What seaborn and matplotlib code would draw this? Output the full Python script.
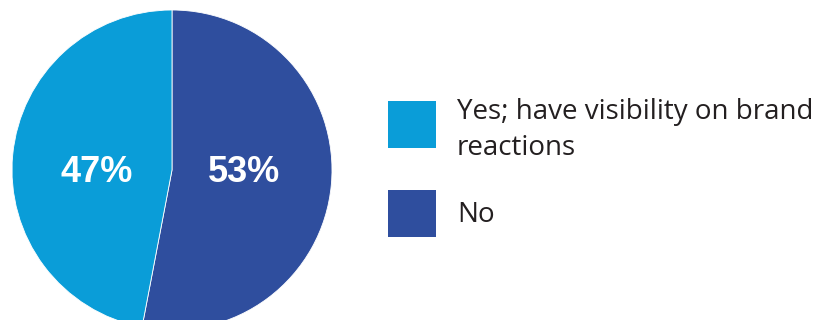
import matplotlib
matplotlib.use("Agg")
import matplotlib.pyplot as plt
from matplotlib.patches import Rectangle
import seaborn as sns

# Survey answers: visibility on brand reactions
labels = ["No", "Yes; have visibility on brand\nreactions"]
shares = [53, 47]
colors = ["#2f4e9e", "#0a9dd8"]
legend_labels = ["Yes; have visibility on brand\nreactions", "No"]
legend_colors = ["#0a9dd8", "#2f4e9e"]

sns.set_theme(style="white")
plt.rcParams["font.family"] = ["Liberation Sans", "DejaVu Sans"]

W, H = 825, 320
fig = plt.figure(figsize=(W / 100, H / 100), dpi=100)

# Pie axes: centre at (172, 170) px, radius 160 px
cx, cy, r = 172, 170, 160
ax = fig.add_axes([(cx - r) / W, (H - cy - r) / H, 2 * r / W, 2 * r / H])
wedges, _, autotexts = ax.pie(
    shares, colors=colors, startangle=90, counterclock=False,
    radius=1, autopct=lambda p: f"{p:.0f}%",
    wedgeprops=dict(linewidth=0.6, edgecolor="white"),
    textprops=dict(color="white", fontsize=26, fontweight="bold"),
)
# percentage labels sit side by side on the horizontal mid-line
for t, x in zip(autotexts, [0.45, -0.47]):
    t.set_position((x, -0.015))
    t.set_va("center")
ax.set_xlim(-1, 1)
ax.set_ylim(-1, 1)
ax.set_aspect("equal")
ax.axis("off")

# Legend entries drawn in pixel coordinates
boxes = [(388, 101), (388, 190)]
baselines = [119, 222]
for (bx, by), base, lab, col in zip(boxes, baselines, legend_labels, legend_colors):
    fig.patches.append(Rectangle((bx / W, (H - by - 47) / H), 48 / W, 47 / H,
                                 transform=fig.transFigure, facecolor=col,
                                 edgecolor="none"))
    for i, line in enumerate(lab.split("\n")):
        fig.text(457 / W, (H - base - 36 * i) / H, line, ha="left",
                 va="baseline", fontsize=20, color="#231f20",
                 family=["Open Sans", "DejaVu Sans"])

fig.savefig("out.png", dpi=100)
